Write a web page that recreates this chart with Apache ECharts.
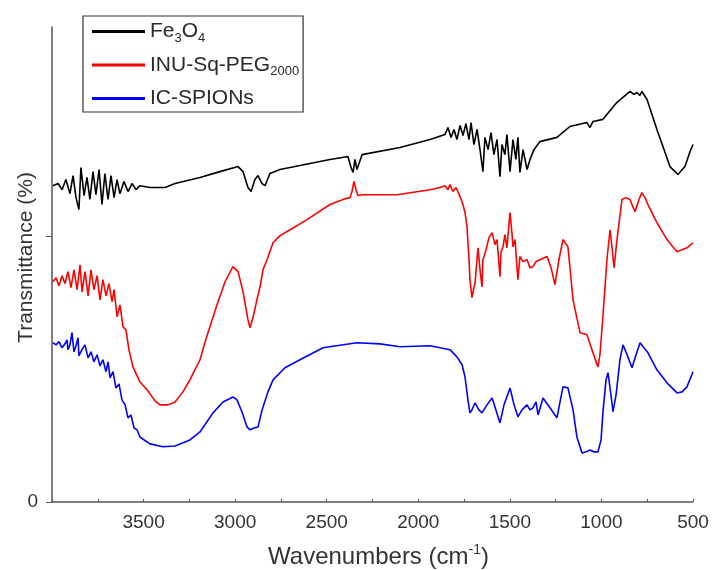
<!DOCTYPE html>
<html>
<head>
<meta charset="utf-8">
<script src="https://cdn.jsdelivr.net/npm/echarts@6/dist/echarts.min.js"></script>
<style>
html,body{margin:0;padding:0;background:#fff;}
#chart{width:712px;height:570px;}
</style>
</head>
<body>
<div id="chart"></div>
<script>
// Wavenumber (cm-1) and offset transmittance (a.u.)
const fe3o4Wn = [3995,3967,3945,3924,3902,3885,3869,3853,3842,3825,3809,3793,3776,3760,3743,3727,3711,3694,3678,3661,3645,3629,3607,3585,3563,3541,3520,
  3465,3383,3328,3192,3083,2984,2957,2930,2913,2892,2875,2853,2837,2810,2755,2646,2482,2384,2367,2356,2346,2335,2307,2100,1936,1854,
  1838,1821,1805,1789,1772,1756,1740,1723,1712,1696,1679,1663,1647,1636,1619,1603,1587,1570,1554,1543,1527,1516,1499,1483,1467,1456,1445,1428,1406,1390,1368,1336,
  1243,1172,1079,1063,1046,992,915,844,822,806,790,779,751,697,664,626,582,544,516,500];
const fe3o4T = [119.2,120.0,117.7,121.5,116.2,123.0,114.7,110.2,126.0,115.5,122.3,114.0,124.5,115.8,125.3,112.1,123.8,114.0,123.0,114.7,121.5,116.2,120.8,117.0,120.0,117.7,119.2,
  118.5,118.5,120.0,122.3,124.5,126.4,124.5,118.5,117.0,121.5,123.0,120.0,119.2,123.8,125.3,126.8,129.1,130.2,126.0,124.2,129.1,125.3,130.9,133.6,136.6,138.5,
  141.1,137.4,140.4,136.6,141.9,138.1,142.6,136.6,143.0,134.7,140.4,132.8,124.5,137.4,132.8,139.2,130.9,136.6,122.6,134.7,130.9,138.5,124.5,136.6,129.1,137.4,124.2,132.8,125.3,129.1,132.8,135.8,
  137.4,141.5,143.0,141.1,143.4,144.2,150.6,154.7,153.6,154.3,153.2,154.7,151.7,140.4,134.0,126.4,123.4,126.4,132.1,134.7];

const inuWn = [3995,3978,3962,3945,3929,3913,3896,3880,3863,3847,
  3836,3820,3803,3787,3771,3754,3738,3722,3705,3689,
  3672,3661,3645,3629,3612,3596,3580,3558,3520,3481,
  3438,3410,3367,3328,3285,3247,3192,3154,3099,3055,
  3012,2984,2957,2930,2919,2903,2881,2864,2848,2826,
  2793,2755,2700,2608,2482,2400,2373,2362,2351,2340,
  2329,2302,2116,1936,1881,1854,1838,1827,1811,1794,
  1772,1756,1745,1734,1723,1718,1707,1696,1690,1674,
  1663,1652,1647,1630,1614,1597,1581,1570,1554,1548,
  1537,1527,1516,1505,1499,1488,1483,1472,1456,1445,
  1428,1406,1390,1374,1357,1336,1297,1275,1254,1232,
  1210,1183,1155,1117,1079,1046,1019,1008,992,970,
  953,942,931,915,888,866,844,817,795,779,
  762,746,697,642,615,587,560,533,500];
const inuT = [83.0,84.5,81.5,85.3,82.3,86.8,80.8,87.5,80.0,89.4,
  79.2,86.8,77.7,87.5,80.0,85.3,76.2,83.8,77.7,82.3,
  75.5,80.0,69.8,74.3,66.0,64.9,57.4,50.9,45.3,42.3,
  38.1,36.6,36.6,37.7,41.5,46.0,53.6,62.6,74.3,83.0,
  88.7,86.8,79.2,68.7,65.7,69.4,76.2,81.1,87.5,91.3,
  97.7,100.4,102.6,106.4,112.1,114.3,114.7,117.0,120.8,117.7,
  115.5,115.8,115.8,117.7,118.5,119.2,117.7,119.6,117.0,118.5,
  115.1,112.1,109.1,103.8,91.3,83.8,77.0,80.8,82.6,95.8,
  87.5,81.1,91.3,95.1,99.6,101.5,97.0,98.9,84.9,94.3,
  96.2,100.8,95.8,104.5,109.1,100.8,96.2,98.9,83.8,92.5,
  90.6,91.3,88.3,88.7,90.6,91.3,92.5,88.3,81.9,91.3,
  98.9,96.2,76.2,63.8,63.0,56.2,50.9,55.5,69.8,91.3,
  102.6,95.8,88.3,98.9,114.0,114.7,114.0,109.4,114.0,116.6,
  114.7,112.1,105.3,98.9,96.6,94.3,95.1,95.8,97.7];

const spionWn = [3995,3978,3962,3945,3929,3918,3913,3902,3891,3880,
  3869,3858,3853,3836,3820,3803,3787,3771,3754,3738,
  3722,3705,3694,3683,3667,3651,3634,3618,3601,3585,
  3569,3552,3536,3520,3465,3394,3328,3247,3192,3121,
  3066,3012,2990,2963,2935,2919,2897,2875,2853,2821,
  2793,2728,2646,2520,2335,2209,2100,1936,1881,1827,
  1789,1761,1745,1729,1718,1707,1690,1669,1652,1625,
  1597,1576,1554,1532,1499,1477,1456,1434,1406,1390,
  1374,1357,1346,1319,1281,1243,1210,1183,1155,1134,
  1106,1084,1063,1041,1019,1002,992,975,964,948,
  937,920,899,882,860,833,811,789,768,746,
  697,642,587,560,533,500];
const spionT = [60.0,59.2,60.4,58.1,59.6,61.1,57.4,59.2,63.8,56.6,
  58.9,61.9,55.1,57.4,59.2,54.3,56.6,52.8,55.5,51.3,
  53.6,49.1,52.8,46.8,49.1,43.0,44.5,38.5,36.6,31.7,
  32.8,27.9,27.2,24.5,21.9,20.8,21.1,23.4,26.4,33.6,
  37.7,39.6,38.5,34.0,28.3,27.2,27.9,28.3,34.7,41.5,
  46.0,50.6,53.6,58.1,60.0,59.6,58.5,58.9,58.1,57.4,
  54.7,51.7,47.2,38.5,33.6,34.7,37.4,34.7,33.6,36.6,
  39.2,34.7,29.8,36.6,43.0,36.6,32.1,34.7,36.6,34.7,
  35.5,37.7,32.8,39.2,35.5,31.7,43.4,43.0,34.7,24.5,
  18.5,18.9,19.6,18.9,18.9,23.4,33.6,46.0,48.7,40.4,
  34.0,40.4,53.6,59.2,55.5,50.6,55.5,60.0,58.1,56.2,
  49.8,44.9,41.1,41.5,43.4,49.1];

const seriesNames = ['Fe3O4', 'INU-Sq-PEG2000', 'IC-SPIONs'];
const legendRich = {
  'Fe3O4': '{n|Fe}{s|3}{n|O}{s|4}',
  'INU-Sq-PEG2000': '{n|INU-Sq-PEG}{s|2000}',
  'IC-SPIONs': '{n|IC-SPIONs}'
};
const xLabelValues = [3500, 3000, 2500, 2000, 1500, 1000, 500];
const yLabelValues = [0];
const yTickValues = [0, 100];

function zip(xs, ys) {
  const n = Math.min(xs.length, ys.length);
  const out = [];
  for (let i = 0; i < n; i++) out.push([xs[i], ys[i]]);
  return out;
}

const FONT = '"Liberation Sans", Arial, sans-serif';
const chart = echarts.init(document.getElementById('chart'), null, {renderer: 'canvas'});
chart.setOption({
  animation: false,
  backgroundColor: '#ffffff',
  grid: {left: 52, right: 19, top: 27, bottom: 68, containLabel: false, outerBoundsMode: 'none'},
  legend: {
    orient: 'vertical',
    left: 83, top: 16,
    padding: [5, 4, 3, 9],
    itemGap: 10,
    itemWidth: 53, itemHeight: 3,
    icon: 'rect',
    borderColor: '#333', borderWidth: 1.2,
    data: seriesNames,
    formatter: function (name) { return legendRich[name]; },
    textStyle: {
      color: '#2a2a2a',
      fontFamily: FONT,
      rich: {
        n: {fontSize: 21, fontFamily: FONT, color: '#2a2a2a', lineHeight: 26},
        s: {fontSize: 13, fontFamily: FONT, color: '#2a2a2a', verticalAlign: 'bottom', lineHeight: 14}
      }
    }
  },
  xAxis: {
    type: 'value',
    min: 500, max: 4000, interval: 250,
    inverse: true,
    name: '{n|Wavenumbers (cm}{p|-1}{n|)}',
    nameLocation: 'middle',
    nameGap: 41,
    nameMoveOverlap: false,
    nameTextStyle: {
      padding: [0, 0, 0, 12],
      rich: {
        n: {fontSize: 24, fontFamily: FONT, color: '#333', lineHeight: 28},
        p: {fontSize: 14, fontFamily: FONT, color: '#333', verticalAlign: 'top', lineHeight: 15}
      }
    },
    axisLine: {show: true, lineStyle: {color: '#555', width: 1.5}},
    axisTick: {show: true, inside: true, length: 3, lineStyle: {color: '#555', width: 1}},
    axisLabel: {
      customValues: xLabelValues,
      formatter: function (v) { return String(v); },
      fontSize: 19, fontFamily: FONT, color: '#333', margin: 11
    },
    splitLine: {show: false}
  },
  yAxis: {
    type: 'value',
    min: 0, max: 179,
    name: 'Transmittance (%)',
    nameLocation: 'middle',
    nameRotate: 90,
    nameGap: 15,
    nameMoveOverlap: false,
    nameTextStyle: {fontSize: 21, fontFamily: FONT, color: '#333', padding: [0, 0, 0, 14]},
    axisLine: {show: true, lineStyle: {color: '#555', width: 1.5}},
    axisTick: {show: true, inside: false, length: 6, customValues: yTickValues, lineStyle: {color: '#555', width: 1}},
    axisLabel: {customValues: yLabelValues, formatter: function (v) { return String(v); }, fontSize: 19, fontFamily: FONT, color: '#333', margin: 14},
    splitLine: {show: false}
  },
  series: [
    {name: seriesNames[0], type: 'line', data: zip(fe3o4Wn, fe3o4T), showSymbol: false, symbol: 'none',
     lineStyle: {color: '#000000', width: 1.6}, itemStyle: {color: '#000000'}},
    {name: seriesNames[1], type: 'line', data: zip(inuWn, inuT), showSymbol: false, symbol: 'none',
     lineStyle: {color: '#ff0000', width: 1.6}, itemStyle: {color: '#ff0000'}},
    {name: seriesNames[2], type: 'line', data: zip(spionWn, spionT), showSymbol: false, symbol: 'none',
     lineStyle: {color: '#0000ff', width: 1.6}, itemStyle: {color: '#0000ff'}}
  ]
});
</script>
</body>
</html>
